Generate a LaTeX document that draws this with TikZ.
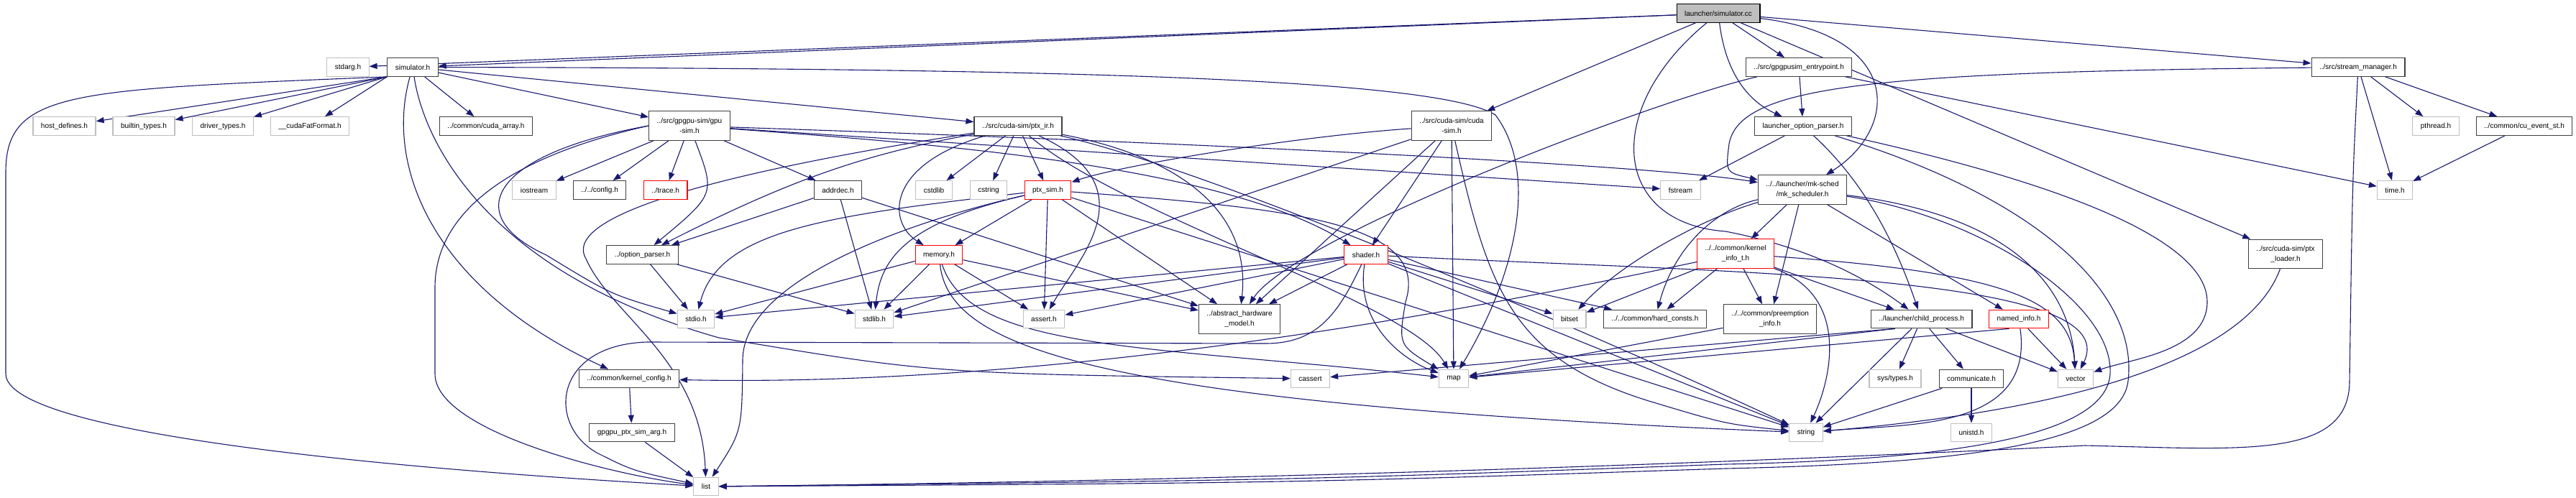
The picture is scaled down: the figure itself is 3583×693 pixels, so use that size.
\documentclass[tikz,border=0pt]{standalone}
\usepackage{fontspec}
\setmainfont{Liberation Sans}
\usetikzlibrary{arrows.meta,backgrounds}
\definecolor{edgeblue}{HTML}{191970}
\definecolor{sysgray}{HTML}{BFBFBF}
\definecolor{docgray}{HTML}{404040}
\tikzset{
  hdr/.style={draw, fill=white, line width=1.1pt, inner xsep=11pt, inner ysep=0pt, minimum height=25.6pt, align=center, font=\fontsize{10}{14}\selectfont},
  doc/.style={hdr, draw=docgray},
  sys/.style={hdr, draw=sysgray},
  trunc/.style={hdr, draw=red},
  rootfile/.style={hdr, draw=black, fill=sysgray},
  tall/.style={minimum height=40.5pt},
  dep/.style={draw=edgeblue, line width=1.1pt, -{Triangle[length=11pt,width=8pt]}}
}
\begin{document}
\begin{tikzpicture}[x=1pt,y=-1pt]
\useasboundingbox (0,0) rectangle (3583,693);
\node[rootfile] (simcc) at (2390,18.5) {launcher/simulator.cc};
\node[sys] (stdarg) at (484,93.5) {stdarg.h};
\node[doc] (simh) at (574,93.5) {simulator.h};
\node[doc] (entry) at (2502,93.5) {../src/gpgpusim\_entrypoint.h};
\node[doc] (streammgr) at (3280,93.5) {../src/stream\_manager.h};
\node[sys] (hostdef) at (89.5,175.5) {host\_defines.h};
\node[sys] (builtin) at (200,175.5) {builtin\_types.h};
\node[sys] (drvtypes) at (310,175.5) {driver\_types.h};
\node[sys] (fatfmt) at (431,175.5) {\_\_cudaFatFormat.h};
\node[doc] (cudaarray) at (676,175.5) {../common/cuda\_array.h};
\node[doc, tall] (gpusim) at (959,175) {../src/gpgpu-sim/gpu\\-sim.h};
\node[doc] (ptxir) at (1416,175.5) {../src/cuda-sim/ptx\_ir.h};
\node[doc, tall] (cudasim) at (2019,175) {../src/cuda-sim/cuda\\-sim.h};
\node[doc] (launchopt) at (2508,175.5) {launcher\_option\_parser.h};
\node[sys] (pthread) at (3388,175.5) {pthread.h};
\node[doc] (cuevent) at (3511,175.5) {../common/cu\_event\_st.h};
\node[sys] (iostream) at (743,264.5) {iostream};
\node[doc] (config) at (834,264.5) {../../config.h};
\node[trunc] (trace) at (925.5,264.5) {../trace.h};
\node[doc] (addrdec) at (1165.5,264.5) {addrdec.h};
\node[sys] (cstdlib) at (1299,264.5) {cstdlib};
\node[sys] (cstring) at (1375,264.5) {cstring};
\node[trunc] (ptxsim) at (1457.5,264.5) {ptx\_sim.h};
\node[sys] (fstream) at (2337.5,264.5) {fstream};
\node[doc, tall] (mksched) at (2507,264) {../../launcher/mk-sched\\/mk\_scheduler.h};
\node[sys] (timeh) at (3331,264.5) {time.h};
\node[doc] (optparser) at (893.5,354.5) {../option\_parser.h};
\node[trunc] (memory) at (1306,354.5) {memory.h};
\node[trunc] (shader) at (1900,354.5) {shader.h};
\node[trunc, tall] (kinfo) at (2414,353) {../../common/kernel\\\_info\_t.h};
\node[doc, tall] (ptxloader) at (3179,353.5) {../src/cuda-sim/ptx\\\_loader.h};
\node[sys] (stdio) at (968,444) {stdio.h};
\node[sys] (stdlib) at (1216,444) {stdlib.h};
\node[sys] (assert) at (1452,444) {assert.h};
\node[doc, tall] (ahm) at (1724,444) {../abstract\_hardware\\\_model.h};
\node[sys] (bitset) at (2183,444) {bitset};
\node[doc] (hardconsts) at (2302,444) {../../common/hard\_consts.h};
\node[doc, tall] (preempt) at (2462,444) {../../common/preemption\\\_info.h};
\node[doc] (childproc) at (2672.5,444) {../launcher/child\_process.h};
\node[trunc] (named) at (2808,444) {named\_info.h};
\node[doc] (kconfig) at (875,527) {../common/kernel\_config.h};
\node[sys] (cassert) at (1822.5,527) {cassert};
\node[sys] (map) at (2022,527) {map};
\node[sys] (systypes) at (2636,527) {sys/types.h};
\node[doc] (communicate) at (2742,527) {communicate.h};
\node[sys] (vector) at (2887,527) {vector};
\node[doc] (ptxsimarg) at (879,602) {gpgpu\_ptx\_sim\_arg.h};
\node[sys] (string) at (2512,602) {string};
\node[sys] (unistd) at (2742,602) {unistd.h};
\node[sys] (list) at (982,677) {list};
\begin{scope}[on background layer]
\fill[white] (0,0) rectangle (3583,693);
\draw[dep] (simcc) -- (stdarg);
\draw[dep] (simcc) -- (simh);
\draw[dep] (simcc) -- (cudasim);
\draw[dep] (simcc) -- (entry);
\draw[dep] (simcc) .. controls (2400,100) and (2430,140) .. (launchopt);
\draw[dep] (simcc) .. controls (2650,50) and (2640,180) .. (mksched);
\draw[dep] (simcc) .. controls (2230,150) and (2240,310) .. (2400,322) .. controls (2520,345) and (2600,390) .. (childproc);
\draw[dep] (simcc) -- (streammgr);
\draw[dep] (simcc) -- (ptxloader);
\draw[dep] (simh.south west) -- (hostdef);
\draw[dep] (simh.south west) -- (builtin);
\draw[dep] (simh.south west) -- (drvtypes);
\draw[dep] (simh.south west) -- (fatfmt);
\draw[dep] (simh) -- (cudaarray);
\draw[dep] (simh) -- (gpusim);
\draw[dep] (simh) -- (ptxir);
\draw[dep] (simh) .. controls (535,230) and (600,400) .. (kconfig);
\draw[dep] (simh) .. controls (590,200) and (680,380) .. (1000,470) .. controls (1300,520) .. (cassert);
\draw[dep] (simh.south west) .. controls (100,125) and (8,125) .. (8,240) -- (8,520) .. controls (8,600) and (500,650) .. (list);
\draw[dep] (simh) .. controls (1500,95) and (2000,110) .. (2080,160) .. controls (2140,240) and (2110,380) .. (map);
\draw[dep] (gpusim) -- (iostream);
\draw[dep] (gpusim) -- (config);
\draw[dep] (gpusim) -- (trace);
\draw[dep] (gpusim) -- (addrdec);
\draw[dep] (gpusim) .. controls (995,270) .. (optparser);
\draw[dep] (gpusim.west) .. controls (700,220) and (605,300) .. (605,400) -- (605,520) .. controls (605,600) and (850,660) .. (list);
\draw[dep] (gpusim.west) .. controls (680,215) and (640,300) .. (760,355) .. controls (850,410) .. (stdio);
\draw[dep] (gpusim) .. controls (1300,200) and (1700,230) .. (shader);
\draw[dep] (gpusim) -- (fstream);
\draw[dep] (gpusim) .. controls (1700,200) and (2300,230) .. (mksched);
\draw[dep] (addrdec) -- (optparser);
\draw[dep] (addrdec) -- (stdlib);
\draw[dep] (addrdec) -- (ahm);
\draw[dep] (ptxir) -- (cstdlib);
\draw[dep] (ptxir) -- (cstring);
\draw[dep] (ptxir) -- (ptxsim);
\draw[dep] (ptxir) .. controls (1230,230) and (1235,310) .. (memory);
\draw[dep] (ptxir) .. controls (1200,215) and (1100,250) .. (optparser);
\draw[dep] (ptxir) .. controls (1000,240) and (780,300) .. (815,360) .. controls (850,440) and (975,500) .. (list);
\draw[dep] (ptxir) .. controls (1600,260) and (1500,360) .. (assert);
\draw[dep] (ptxir) .. controls (1650,220) and (1740,300) .. (ahm);
\draw[dep] (ptxir) .. controls (1560,300) and (1960,420) .. (map);
\draw[dep] (ptxir) .. controls (1700,240) and (2250,480) .. (string);
\draw[dep] (ptxsim) -- (memory);
\draw[dep] (ptxsim) .. controls (1150,300) and (1000,320) .. (stdio);
\draw[dep] (ptxsim) .. controls (1260,310) and (1225,360) .. (stdlib);
\draw[dep] (ptxsim) -- (assert);
\draw[dep] (ptxsim) -- (ahm);
\draw[dep] (ptxsim) .. controls (1800,290) and (1990,310) .. (1955,420) .. controls (1945,480) .. (map);
\draw[dep] (ptxsim) -- (string);
\draw[dep] (ptxsim) .. controls (1300,300) and (1035,380) .. (1033,500) .. controls (1032,600) .. (list);
\draw[dep] (memory) -- (stdio);
\draw[dep] (memory) -- (stdlib);
\draw[dep] (memory) -- (assert);
\draw[dep] (memory) -- (ahm);
\draw[dep] (memory) .. controls (1350,490) and (1600,480) .. (map);
\draw[dep] (memory) .. controls (1320,480) and (1500,560) .. (string);
\draw[dep] (shader) -- (stdio);
\draw[dep] (shader) -- (stdlib);
\draw[dep] (shader) -- (assert);
\draw[dep] (shader) -- (ahm);
\draw[dep] (shader) -- (bitset);
\draw[dep] (shader) -- (hardconsts);
\draw[dep] (shader) .. controls (1885,450) and (1950,500) .. (map);
\draw[dep] (shader) .. controls (2400,380) and (2960,380) .. (vector);
\draw[dep] (shader) -- (string);
\draw[dep] (shader) .. controls (1860,440) and (1830,478) .. (1760,478) -- (900,476) .. controls (770,480) and (760,590) .. (830,630) .. controls (880,655) .. (list);
\draw[dep] (cudasim) .. controls (1800,190) and (1560,230) .. (ptxsim);
\draw[dep] (cudasim) -- (shader);
\draw[dep] (cudasim) -- (ahm);
\draw[dep] (cudasim) -- (map);
\draw[dep] (cudasim) -- (stdlib);
\draw[dep] (cudasim) .. controls (2070,400) and (2100,500) .. (2300,560) .. controls (2400,590) .. (string);
\draw[dep] (kinfo) -- (preempt);
\draw[dep] (kinfo) -- (childproc);
\draw[dep] (kinfo) -- (bitset);
\draw[dep] (kinfo) -- (hardconsts);
\draw[dep] (kinfo.south east) .. controls (2570,410) and (2550,520) .. (string);
\draw[dep] (kinfo) .. controls (2800,380) and (2880,420) .. (vector);
\draw[dep] (kinfo) .. controls (2100,420) and (1500,540) .. (kconfig);
\draw[dep] (mksched) -- (kinfo);
\draw[dep] (mksched) -- (preempt);
\draw[dep] (mksched) -- (named);
\draw[dep] (mksched) .. controls (2800,300) and (2880,400) .. (vector);
\draw[dep] (mksched) .. controls (2380,300) and (2260,360) .. (bitset);
\draw[dep] (mksched) .. controls (2390,290) and (2330,340) .. (hardconsts);
\draw[dep] (mksched) .. controls (2750,300) and (2940,420) .. (2935,520) .. controls (2930,610) and (2700,640) .. (2400,646) .. controls (1800,668) .. (list);
\draw[dep] (streammgr) -- (pthread);
\draw[dep] (streammgr) -- (cuevent);
\draw[dep] (streammgr) -- (timeh);
\draw[dep] (streammgr) .. controls (2600,100) and (2420,120) .. (2405,200) .. controls (2400,240) .. (mksched);
\draw[dep] (streammgr) .. controls (3272,250) .. (3268,530) .. controls (3268,640) and (3120,625) .. (2900,620) .. controls (2500,640) and (1800,668) .. (list);
\draw[dep] (cuevent) -- (timeh);
\draw[dep] (entry) -- (launchopt);
\draw[dep] (entry) -- (timeh);
\draw[dep] (entry) .. controls (2300,140) and (1800,330) .. (ahm);
\draw[dep] (launchopt) .. controls (2600,260) and (2640,350) .. (childproc);
\draw[dep] (launchopt) -- (fstream);
\draw[dep] (launchopt) .. controls (2800,240) and (3070,320) .. (3070,420) .. controls (3070,490) and (2960,500) .. (vector);
\draw[dep] (launchopt) .. controls (2820,270) and (2975,400) .. (2960,530) .. controls (2950,620) and (2720,645) .. (2400,652) .. controls (1800,672) .. (list);
\draw[dep] (childproc) -- (systypes);
\draw[dep] (childproc) -- (communicate);
\draw[dep] (childproc) -- (string);
\draw[dep] (childproc) -- (vector);
\draw[dep] (childproc.200) -- (map);
\draw[dep] (childproc.200) -- (cassert);
\draw[dep] (named) -- (vector);
\draw[dep] (named) .. controls (2830,600) and (2650,590) .. (string);
\draw[dep] (named.225) -- (map);
\draw[dep] (communicate) -- (string);
\draw[dep] (communicate) -- (unistd);
\draw[dep] (preempt) -- (map);
\draw[dep] (kconfig) -- (ptxsimarg);
\draw[dep] (ptxsimarg) -- (list);
\draw[dep] (optparser) -- (stdio);
\draw[dep] (optparser) -- (stdlib);
\draw[dep] (ptxloader) .. controls (3140,460) and (3000,560) .. (string);
\end{scope}
\end{tikzpicture}
\end{document}
